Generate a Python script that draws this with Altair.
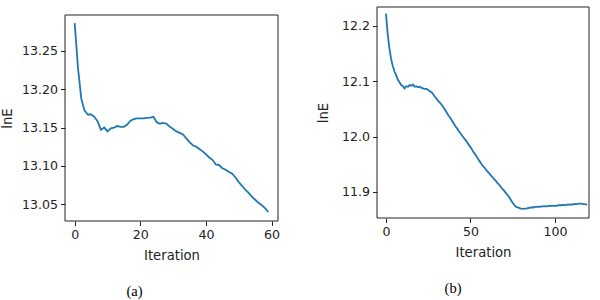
import altair as alt
import pandas as pd

# (a) energy per iteration, short run
iter_a = list(range(60))
lne_a = [
    13.286, 13.228, 13.188, 13.172, 13.167, 13.167, 13.164, 13.158, 13.147, 13.150,
    13.145, 13.149, 13.150, 13.152, 13.151, 13.151, 13.154, 13.159, 13.161, 13.162,
    13.162, 13.162, 13.1625, 13.163, 13.164, 13.157, 13.155, 13.156, 13.155, 13.151,
    13.148, 13.145, 13.143, 13.141, 13.136, 13.131, 13.127, 13.125, 13.122, 13.119,
    13.115, 13.111, 13.108, 13.102, 13.101, 13.097, 13.095, 13.092, 13.090, 13.085,
    13.079, 13.074, 13.069, 13.065, 13.060, 13.056, 13.052, 13.049, 13.045, 13.040,
]

# (b) energy per iteration, long run
iter_b = list(range(120))
lne_b = [
    12.222, 12.186, 12.160, 12.141, 12.128, 12.118, 12.111, 12.103, 12.098, 12.093,
    12.091, 12.087, 12.091, 12.090, 12.093, 12.092, 12.094, 12.090, 12.091, 12.089,
    12.090, 12.088, 12.087, 12.086, 12.086, 12.084, 12.082, 12.080, 12.076, 12.072,
    12.068, 12.064, 12.061, 12.057, 12.053, 12.048, 12.043, 12.038, 12.034, 12.029,
    12.024, 12.019, 12.015, 12.010, 12.006, 12.002, 11.998, 11.994, 11.990, 11.985,
    11.981, 11.976, 11.971, 11.967, 11.962, 11.957, 11.953, 11.948, 11.945, 11.941,
    11.937, 11.934, 11.930, 11.927, 11.923, 11.920, 11.916, 11.913, 11.909, 11.905,
    11.902, 11.898, 11.894, 11.890, 11.885, 11.880, 11.876, 11.873, 11.872, 11.871,
    11.870, 11.8695, 11.870, 11.870, 11.871, 11.8715, 11.872, 11.872, 11.873, 11.873,
    11.8735, 11.873, 11.874, 11.874, 11.8745, 11.874, 11.8745, 11.875, 11.875, 11.875,
    11.8755, 11.875, 11.876, 11.876, 11.876, 11.8765, 11.876, 11.877, 11.877, 11.8775,
    11.877, 11.878, 11.8785, 11.878, 11.879, 11.879, 11.8785, 11.878, 11.8775, 11.877,
]

xticks_a = [0, 20, 40, 60]
yticks_a = [13.05, 13.10, 13.15, 13.20, 13.25]
xticks_b = [0, 50, 100]
yticks_b = [11.9, 12.0, 12.1, 12.2]

SANS = "DejaVu Sans"
SERIF = "Liberation Serif"
BLUE = "#1f77b4"
INK = "#222222"


def panel(iters, values, xdom, ydom, xticks, yticks, yfmt, w, h, caption, cap_dx, title_x):
    df = pd.DataFrame({"Iteration": iters, "lnE": values})
    common = dict(
        domain=False, grid=False, tickColor=INK, tickSize=4.5, tickWidth=1,
        labelFont=SANS, labelFontSize=12.6, labelColor=INK,
        titleFont=SANS, titleFontSize=13.2, titleFontWeight="normal", titleColor=INK,
    )
    x = alt.X(
        "Iteration:Q",
        scale=alt.Scale(domain=xdom, nice=False, zero=False),
        axis=alt.Axis(values=xticks, format="d", title="Iteration",
                      labelPadding=3, titlePadding=8, **common),
    )
    y = alt.Y(
        "lnE:Q",
        scale=alt.Scale(domain=ydom, nice=False, zero=False),
        axis=alt.Axis(values=yticks, format=yfmt, title="lnE", labelPadding=3,
                      titleAngle=270, titleBaseline="middle", titleAlign="center",
                      titleX=title_x, titleY=h / 2, **common),
    )
    line = alt.Chart(df).mark_line(color=BLUE, strokeWidth=1.8).encode(x=x, y=y)
    # four-sided frame around the plot area
    frame = (
        alt.Chart(pd.DataFrame({"f": [0]}))
        .mark_rect(filled=False, stroke=INK, strokeWidth=1)
        .encode(x=alt.value(0), x2=alt.value(w), y=alt.value(0), y2=alt.value(h))
    )
    return alt.layer(line, frame).properties(
        width=w,
        height=h,
        title=alt.TitleParams(
            caption, orient="bottom", anchor="middle", frame="group",
            font=SERIF, fontSize=14.5, fontWeight="normal", color="#000000",
            dx=cap_dx, offset=24,
        ),
    )


plot_a = panel(iter_a, lne_a, [-2.95, 61.95], [13.0283, 13.2966], xticks_a, yticks_a,
               ".2f", 213, 206, "(a)", -37, -58)
plot_b = panel(iter_b, lne_b, [-5.3, 120.1], [11.853, 12.234], xticks_b, yticks_b,
               ".1f", 212, 211, "(b)", -30, -54)

# small blank strip that pushes panel (a) down a few pixels
spacer = (
    alt.Chart(pd.DataFrame({"v": [0]}))
    .mark_point(opacity=0, size=1)
    .encode(x=alt.value(5), y=alt.value(3))
    .properties(width=10, height=7)
)

chart = (
    alt.hconcat(alt.vconcat(spacer, plot_a, spacing=0), plot_b, spacing=36)
    .properties(padding={"left": 0, "top": 6, "right": 5, "bottom": 0})
    .configure_view(stroke=None)
)

chart.save("out.html", embed_options={"renderer": "svg", "actions": False})
